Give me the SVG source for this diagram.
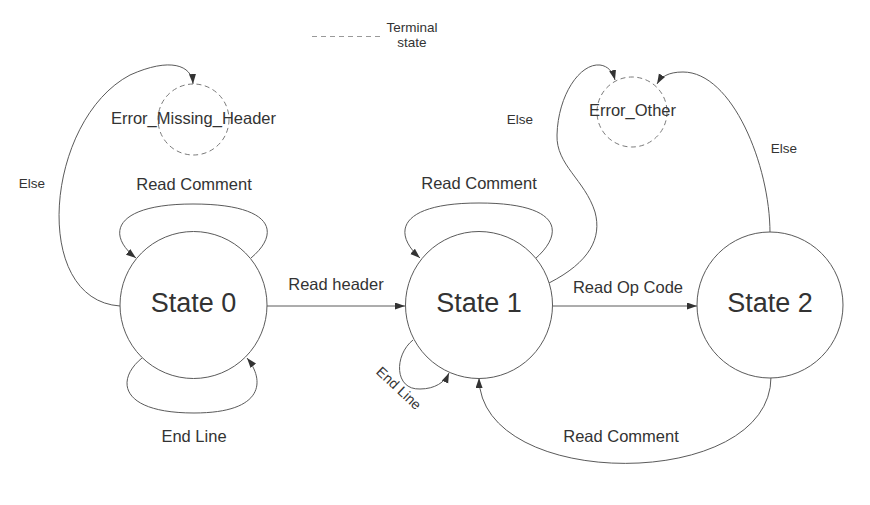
<svg xmlns="http://www.w3.org/2000/svg" width="870" height="505" viewBox="0 0 870 505">
<style>
.node{fill:#ffffff;stroke:#5a5a5a;stroke-width:1}
.term{fill:none;stroke:#7a7a7a;stroke-width:1;stroke-dasharray:5,3.5}
.edge{fill:none;stroke:#5a5a5a;stroke-width:1}
.big{font-family:"Liberation Sans",Arial,sans-serif;font-size:27px;fill:#333333;text-anchor:middle}
.lbl{font-family:"Liberation Sans",Arial,sans-serif;font-size:16.5px;fill:#333333;text-anchor:middle}
.sm{font-family:"Liberation Sans",Arial,sans-serif;font-size:13.5px;fill:#333333;text-anchor:middle}
</style>
<defs>
<marker id="arr" markerUnits="userSpaceOnUse" markerWidth="11" markerHeight="8" refX="10" refY="3.5" orient="auto">
<path d="M0,0 L10,3.5 L0,7 z" fill="#333333"/>
</marker>
</defs>
<rect width="870" height="505" fill="#ffffff"/>

<g id="legend">
<line x1="312" y1="36.5" x2="382" y2="36.5" stroke="#999999" stroke-width="1" stroke-dasharray="5,4"/>
<text class="sm" x="412" y="31.5">Terminal</text>
<text class="sm" x="412" y="47">state</text>
</g>

<g id="connectors">
<path class="edge" d="M120,306 C30,300 45,120 130,75 C170,57 192,65 193,84" marker-end="url(#arr)"/>
<text class="sm" x="32" y="188">Else</text>
<path class="edge" d="M251,258 C282,232 272,204 193,204 C115,204 105,234 136,258" marker-end="url(#arr)"/>
<text class="lbl" x="194" y="190">Read Comment</text>
<path class="edge" d="M142,358 C115,380 120,413 194,413 C265,413 265,380 247,358" marker-end="url(#arr)"/>
<text class="lbl" x="194" y="442">End Line</text>
<line class="edge" x1="267" y1="306" x2="405" y2="306" marker-end="url(#arr)"/>
<text class="lbl" x="336" y="290">Read header</text>
<path class="edge" d="M535,259 C566,232 560,203 479,203 C400,203 391,232 420,258" marker-end="url(#arr)"/>
<text class="lbl" x="479" y="189">Read Comment</text>
<path class="edge" d="M413,340 C394,355 394,390 420,389 C435,389 445,382 449,373" marker-end="url(#arr)"/>
<text class="sm" x="0" y="0" transform="translate(399,388) rotate(43)" dy="5" style="font-size:14px">End Line</text>
<path class="edge" d="M549,283 C590,262 602,238 595,212 C585,180 556,165 557,135 C558,95 580,63 600,65 C608,66 613,72 615,80" marker-end="url(#arr)"/>
<text class="sm" x="520" y="124">Else</text>
<line class="edge" x1="553" y1="306" x2="697" y2="306" marker-end="url(#arr)"/>
<text class="lbl" x="628" y="293">Read Op Code</text>
<path class="edge" d="M770,233 C770,165 732,72 683,72 C668,72 661,77 657,84" marker-end="url(#arr)"/>
<text class="sm" x="784" y="153">Else</text>
<path class="edge" d="M771,377 C771,492 480,492 479,378" marker-end="url(#arr)"/>
<text class="lbl" x="621" y="442">Read Comment</text>
</g>

<g id="state0">
<circle class="node" cx="193.5" cy="305" r="73.5"/>
<text class="big" x="193.5" y="311.5">State 0</text>
</g>
<g id="state1">
<circle class="node" cx="479" cy="305" r="73.5"/>
<text class="big" x="479" y="311.5">State 1</text>
</g>
<g id="state2">
<circle class="node" cx="770" cy="305" r="73"/>
<text class="big" x="770" y="311.5">State 2</text>
</g>
<g id="error_missing_header">
<circle class="term" cx="193.5" cy="119.5" r="35.5"/>
<text class="lbl" x="193.5" y="124">Error_Missing_Header</text>
</g>
<g id="error_other">
<circle class="term" cx="632" cy="112" r="35"/>
<text class="lbl" x="632.5" y="116">Error_Other</text>
</g>
</svg>
